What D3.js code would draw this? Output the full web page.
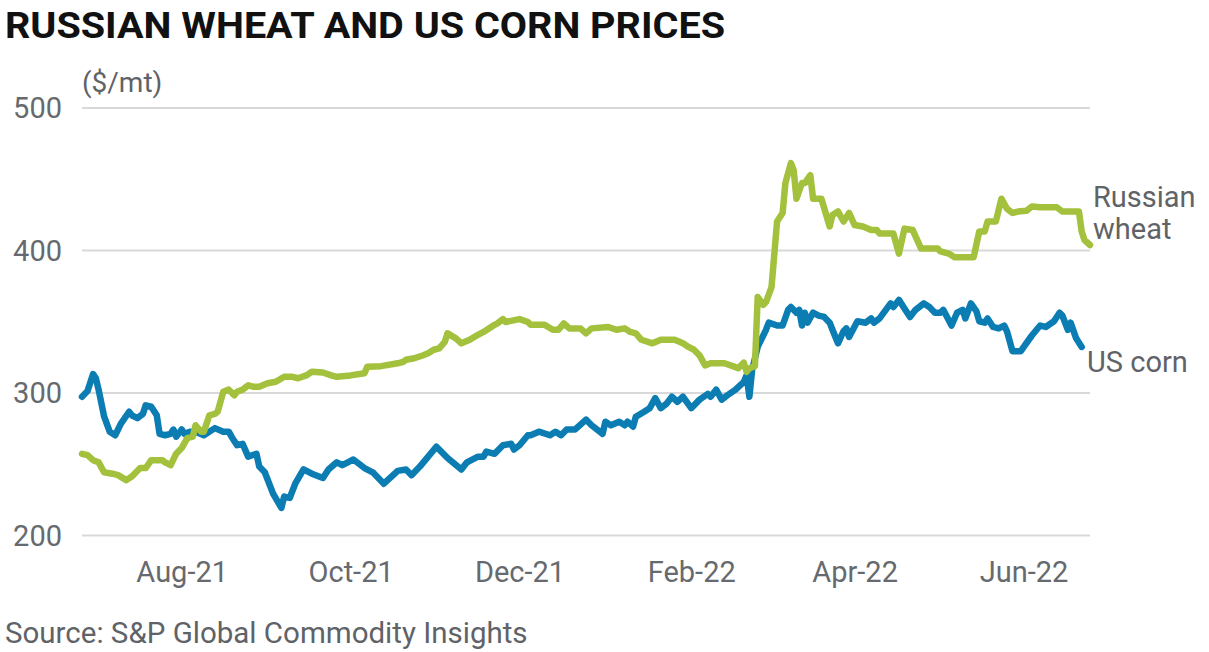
<!DOCTYPE html>
<html>
<head>
<meta charset="utf-8">
<script src="https://cdn.jsdelivr.net/npm/d3@7"></script>
<style>
  html, body { margin: 0; padding: 0; background: #ffffff; }
  svg { display: block; font-family: Roboto, "Noto Sans", sans-serif; }
</style>
</head>
<body>
<svg id="chart" width="1209" height="652"></svg>
<script>
// ---------- DATA ----------
const title = "RUSSIAN WHEAT AND US CORN PRICES";
const unitLabel = "($/mt)";
const sourceText = "Source: S&P Global Commodity Insights";
const seriesNames = ["Russian wheat", "US corn"];

const yTicks = [200, 300, 400, 500];
const xTickDates = ["2021-08-01", "2021-10-01", "2021-12-01", "2022-02-01", "2022-04-01", "2022-06-01"];
const xDomainDates = ["2021-06-26", "2022-06-25"];

const wheatDates = ["2021-06-26","2021-06-28","2021-06-30","2021-07-02","2021-07-04","2021-07-07","2021-07-09","2021-07-12","2021-07-14","2021-07-17","2021-07-19","2021-07-21","2021-07-25","2021-07-26","2021-07-28","2021-07-30",
"2021-08-01","2021-08-03","2021-08-05","2021-08-06","2021-08-08","2021-08-09","2021-08-11","2021-08-13","2021-08-14","2021-08-16","2021-08-18","2021-08-20","2021-08-21","2021-08-23","2021-08-25","2021-08-27","2021-08-29",
"2021-09-01","2021-09-04","2021-09-07","2021-09-10","2021-09-12","2021-09-15","2021-09-17","2021-09-21","2021-09-24","2021-09-26",
"2021-10-01","2021-10-06","2021-10-07","2021-10-12","2021-10-18","2021-10-20","2021-10-21","2021-10-24","2021-10-27","2021-10-29","2021-10-31",
"2021-11-02","2021-11-04","2021-11-05","2021-11-08","2021-11-10","2021-11-13","2021-11-16","2021-11-18","2021-11-22","2021-11-23","2021-11-25","2021-11-26",
"2021-12-01","2021-12-04","2021-12-05","2021-12-10","2021-12-13","2021-12-15","2021-12-17","2021-12-19","2021-12-23","2021-12-25","2021-12-27",
"2022-01-02","2022-01-05","2022-01-08","2022-01-10","2022-01-12","2022-01-14","2022-01-18","2022-01-21","2022-01-26","2022-01-29","2022-01-31",
"2022-02-02","2022-02-04","2022-02-06","2022-02-08","2022-02-13","2022-02-16","2022-02-18","2022-02-20","2022-02-21","2022-02-22","2022-02-24","2022-02-25","2022-02-27","2022-02-28",
"2022-03-02","2022-03-04","2022-03-06","2022-03-07","2022-03-09","2022-03-10","2022-03-11","2022-03-13","2022-03-14","2022-03-16","2022-03-17","2022-03-20","2022-03-23","2022-03-24","2022-03-26","2022-03-28","2022-03-30",
"2022-04-01","2022-04-04","2022-04-07","2022-04-09","2022-04-10","2022-04-15","2022-04-17","2022-04-19","2022-04-22","2022-04-25",
"2022-05-01","2022-05-02","2022-05-05","2022-05-07","2022-05-14","2022-05-16","2022-05-18","2022-05-19","2022-05-22","2022-05-24","2022-05-26","2022-05-28","2022-05-30",
"2022-06-02","2022-06-04","2022-06-07","2022-06-13","2022-06-15","2022-06-21","2022-06-22","2022-06-23","2022-06-25"];
const wheatValues = [257,256,252.5,251,244,243,242,238.5,241,247,247,252.5,252.5,251,249,257,
261,268,269,277,272.5,272.5,284,285,286.5,300.5,302,298,300.5,302,305,304,304,
306.5,307.5,311,311,310,312,314.5,314,312,311,
312,313.5,318,318.5,320.5,321.5,323,324,326,327.5,330,
331,335.5,341.5,338,334.5,337,340.5,342.5,347.5,348.5,351.5,349.5,
351.5,349.5,347.5,347.5,344,344,348.5,345,345,341.5,345,
346,344,345,342.5,341.5,337,334.5,337,337,334.5,332,
330,326,319,320.5,320.5,318.5,317,321,314.5,317,318.5,367,361.5,363.5,
374,420,426,447,461,456,436,447,447,452.5,436,436,416.5,424.5,427,420,426,
417.5,416.5,414,414,411.5,411.5,397.5,415,414,401,
401,399,397.5,395,395,413,413,420,420,436,429,426,427,
427.5,430.5,430,430,427,427,413,407,403.5];

const cornDates = ["2021-06-26","2021-06-28","2021-06-30","2021-07-01","2021-07-02","2021-07-04","2021-07-06","2021-07-08","2021-07-10","2021-07-13","2021-07-14","2021-07-16","2021-07-18","2021-07-19","2021-07-21","2021-07-23","2021-07-24","2021-07-26","2021-07-28","2021-07-29","2021-07-30",
"2021-08-01","2021-08-02","2021-08-04","2021-08-06","2021-08-09","2021-08-13","2021-08-16","2021-08-18","2021-08-19","2021-08-21","2021-08-23","2021-08-25","2021-08-28","2021-08-29","2021-08-31",
"2021-09-03","2021-09-06","2021-09-07","2021-09-09","2021-09-11","2021-09-14","2021-09-17","2021-09-21","2021-09-23","2021-09-26","2021-09-28","2021-09-30",
"2021-10-02","2021-10-06","2021-10-09","2021-10-13","2021-10-18","2021-10-21","2021-10-23","2021-10-26","2021-10-29",
"2021-11-01","2021-11-05","2021-11-10","2021-11-12","2021-11-16","2021-11-18","2021-11-19","2021-11-22","2021-11-25","2021-11-28","2021-11-29",
"2021-12-01","2021-12-04","2021-12-05","2021-12-08","2021-12-12","2021-12-14","2021-12-16","2021-12-18","2021-12-21","2021-12-25","2021-12-27","2021-12-31",
"2022-01-01","2022-01-03","2022-01-06","2022-01-08","2022-01-09","2022-01-11","2022-01-12","2022-01-15","2022-01-17","2022-01-19","2022-01-21","2022-01-23","2022-01-25","2022-01-27","2022-01-29",
"2022-02-01","2022-02-04","2022-02-07","2022-02-08","2022-02-10","2022-02-12","2022-02-14","2022-02-17","2022-02-20","2022-02-21","2022-02-22","2022-02-23","2022-02-25","2022-02-28",
"2022-03-01","2022-03-04","2022-03-06","2022-03-08","2022-03-09","2022-03-11","2022-03-12","2022-03-13","2022-03-14","2022-03-15","2022-03-17","2022-03-19","2022-03-21","2022-03-23","2022-03-24","2022-03-26","2022-03-28","2022-03-29","2022-03-30",
"2022-04-02","2022-04-05","2022-04-07","2022-04-08","2022-04-10","2022-04-14","2022-04-15","2022-04-17","2022-04-19","2022-04-21","2022-04-23","2022-04-26","2022-04-28","2022-04-30",
"2022-05-02","2022-05-03","2022-05-06","2022-05-08","2022-05-10","2022-05-11","2022-05-13","2022-05-15","2022-05-16","2022-05-18","2022-05-19","2022-05-21","2022-05-23","2022-05-25","2022-05-26","2022-05-28","2022-05-31",
"2022-06-04","2022-06-07","2022-06-09","2022-06-12","2022-06-14","2022-06-15","2022-06-17","2022-06-18","2022-06-20","2022-06-22"];
const cornValues = [297,301,313,310,302,283,272.5,270,278,286.5,284,282,285,291,290,284,271,270,271,274,269,
274,271,272.5,272.5,270,275,272.5,272.5,269,263,264,255,257,248,244,
229,219,227,226,236,246,243,240,246,251,249,251,
253,247,244,236,245,246,242,248,255,
262,254,246,251,255,255,258.5,257,263,264,260,
263,270,270,272.5,270,272.5,270,274,274,281,277,271,
279.5,277,279.5,277,279.5,276,283,286.5,289,296,289,292,297,293.5,297,
289,295,299,297,302,295,298,302,307.5,312,297,316,332,344,
349,347,347,358,360,356,358,347,356,349,356,354,353,349,344,334.5,343,345,339,
350,349,352,349,352,362.5,360,365,359,353,358,362.5,360,356,
356,358,347,356,358,352,362.5,357,350,349,352,346,345,347,343,329,329,
340,347,346,350,356,354,344,349,338,332];

// ---------- LAYOUT / STYLE ----------
const plot = { left: 82, right: 1090, top: 107.5, bottom: 535 };
const textGray = "#5f6368";
const gridColor = "#d9d9d9";
const wheatColor = "#a3c13c";
const cornColor = "#0b7db2";

const parse = d3.timeParse("%Y-%m-%d");
const svg = d3.select("#chart");

const x = d3.scaleTime()
  .domain(xDomainDates.map(parse))
  .range([plot.left, plot.right]);
const y = d3.scaleLinear()
  .domain([200, 500])
  .range([plot.bottom, plot.top]);

// Title
svg.append("text")
  .attr("x", 5).attr("y", 38)
  .attr("font-size", 37).attr("font-weight", 700)
  .attr("fill", "#111")
  .attr("textLength", 720).attr("lengthAdjust", "spacingAndGlyphs")
  .text(title);

// Unit
svg.append("text")
  .attr("x", 82).attr("y", 92)
  .attr("font-size", 28).attr("fill", textGray)
  .text(unitLabel);

// Gridlines + y labels
const yAxis = d3.axisLeft(y).tickValues(yTicks).tickSize(-(plot.right - plot.left)).tickPadding(20).tickFormat(d3.format("d"));
const gy = svg.append("g").attr("transform", `translate(${plot.left},0)`).call(yAxis);
gy.select(".domain").remove();
gy.selectAll(".tick line").attr("stroke", gridColor).attr("stroke-width", 2);
gy.selectAll(".tick text")
  .attr("font-family", "Roboto, 'Noto Sans', sans-serif")
  .attr("font-size", 29).attr("fill", "#666a6e")
  .attr("x", 62 - plot.left).attr("dy", "0.36em");

// X axis labels
const xAxis = d3.axisBottom(x).tickValues(xTickDates.map(parse)).tickSize(0).tickPadding(0).tickFormat(d3.timeFormat("%b-%y"));
const gx = svg.append("g").attr("transform", `translate(0,${plot.bottom})`).call(xAxis);
gx.select(".domain").remove();
gx.selectAll(".tick text")
  .attr("font-family", "Roboto, 'Noto Sans', sans-serif")
  .attr("font-size", 29).attr("fill", "#666a6e")
  .attr("y", 0).attr("dy", 0)
  .attr("transform", "translate(0,47)");

// Lines
const line = d3.line()
  .x(d => x(d.date))
  .y(d => y(d.value));

const corn = cornDates.map((d, i) => ({ date: parse(d), value: cornValues[i] }));
const wheat = wheatDates.map((d, i) => ({ date: parse(d), value: wheatValues[i] }));

svg.append("path").datum(corn)
  .attr("d", line).attr("fill", "none")
  .attr("stroke", cornColor).attr("stroke-width", 6.5)
  .attr("stroke-linejoin", "round").attr("stroke-linecap", "round");

svg.append("path").datum(wheat)
  .attr("d", line).attr("fill", "none")
  .attr("stroke", wheatColor).attr("stroke-width", 6.5)
  .attr("stroke-linejoin", "round").attr("stroke-linecap", "round");

// Series labels
const wl = svg.append("text").attr("font-size", 29).attr("fill", textGray);
wl.append("tspan").attr("x", 1093).attr("y", 207).text("Russian");
wl.append("tspan").attr("x", 1093).attr("y", 239).text("wheat");

svg.append("text")
  .attr("x", 1087).attr("y", 372)
  .attr("font-size", 29).attr("fill", textGray)
  .text(seriesNames[1]);

// Source
svg.append("text")
  .attr("x", 5).attr("y", 643)
  .attr("font-size", 29.5).attr("fill", textGray)
  .text(sourceText);
</script>
</body>
</html>
